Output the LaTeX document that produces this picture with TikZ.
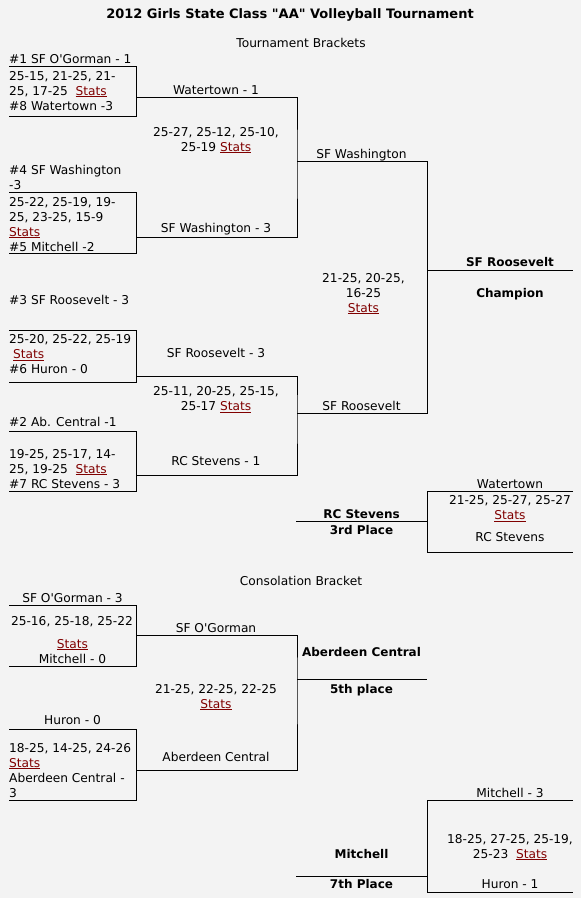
\documentclass[tikz,border=0pt]{standalone}
\usepackage{fontspec}
\setmainfont{DejaVu Sans}
\usepackage{xcolor}
\usetikzlibrary{positioning, calc}

\definecolor{pagebg}{HTML}{F3F3F3}
\definecolor{linkred}{HTML}{800000}
\newcommand{\statlink}{\textcolor{linkred}{\underline{Stats}}}

\begin{document}
\begin{tikzpicture}[
        x=1pt, y=-1pt,
        every node/.style={inner sep=0pt, font=\fontsize{12.2}{15}\selectfont},
        seed/.style={anchor=base west, align=left},
        result/.style={anchor=base, align=center},
        placed/.style={anchor=base, align=center, font=\fontsize{12}{15}\selectfont\bfseries},
        heading/.style={anchor=base},
        bracket/.style={draw, line width=1pt}
    ]
        \useasboundingbox[fill=pagebg] (0,0) rectangle (581,898);

        % Headings (multi-line nodes sit on their last baseline)
        \node[heading, font=\fontsize{13}{16}\selectfont\bfseries] (title) at (290,18) {2012 Girls State Class \textquotedbl AA\textquotedbl{} Volleyball Tournament};
        \node[heading] (mainhead) at (301,47) {Tournament Brackets};
        \node[heading] (conshead) at (301,585) {Consolation Bracket};

        % First round
        \node[seed] (s1) at (9,63.5) {\#1 SF O\textquotesingle Gorman - 1};
        \node[seed] (m1) at (9,110) {25-15, 21-25, 21-\\25, 17-25\ \ \statlink\\\#8 Watertown -3};
        \node[seed] (s4) at (9,189) {\#4 SF Washington\\-3};
        \node[seed] (m2) at (9,251) {25-22, 25-19, 19-\\25, 23-25, 15-9\\\statlink\\\#5 Mitchell -2};
        \node[seed] (s3) at (9,304) {\#3 SF Roosevelt - 3};
        \node[seed] (m3) at (9,373.5) {25-20, 25-22, 25-19\\\ \statlink\\\#6 Huron - 0};
        \node[seed] (s2) at (9,426) {\#2 Ab. Central -1};
        \node[seed] (m4) at (9,488) {19-25, 25-17, 14-\\25, 19-25\ \ \statlink\\\#7 RC Stevens - 3};

        % Semifinals
        \node[result] (w1) at (216,94.5) {Watertown - 1};
        \node[result] (m5) at (216,151) {25-27, 25-12, 25-10,\\25-19 \statlink};
        \node[result] (w4) at (216,232) {SF Washington - 3};
        \node[result] (w3) at (216,357) {SF Roosevelt - 3};
        \node[result] (m6) at (216,410.5) {25-11, 20-25, 25-15,\\25-17 \statlink};
        \node[result] (w7) at (216,465) {RC Stevens - 1};

        % Final
        \node[result] (f1) at (361.5,158) {SF Washington};
        \node[result] (m7) at (363.5,312) {21-25, 20-25,\\16-25\\\statlink};
        \node[result] (f2) at (361.5,410) {SF Roosevelt};
        \node[placed] (champ) at (510,266) {SF Roosevelt};
        \node[placed] (champlbl) at (510,297) {Champion};

        % Third place
        \node[result] (t1) at (510,488) {Watertown};
        \node[result] (m8) at (510,519.5) {21-25, 25-27, 25-27\\\statlink};
        \node[result] (t2) at (510,541) {RC Stevens};
        \node[placed] (third) at (361.5,518) {RC Stevens};
        \node[placed] (thirdlbl) at (361.5,534) {3rd Place};

        % Consolation
        \node[result] (c1) at (72.5,602) {SF O\textquotesingle Gorman - 3};
        \node[result] (cm1) at (72,625.5) {25-16, 25-18, 25-22};
        \node[result] (cm1b) at (72.5,663) {\statlink\\Mitchell - 0};
        \node[result] (c2) at (72.5,724.5) {Huron - 0};
        \node[seed] (cm2) at (9,797) {18-25, 14-25, 24-26\\\statlink\\Aberdeen Central -\\3};
        \node[result] (cw1) at (216,632) {SF O\textquotesingle Gorman};
        \node[result] (cm3) at (216,708) {21-25, 22-25, 22-25\\\statlink};
        \node[result] (cw2) at (216,761) {Aberdeen Central};
        \node[placed] (fifth) at (361.5,656) {Aberdeen Central};
        \node[placed] (fifthlbl) at (361.5,693) {5th place};

        % Seventh place
        \node[result] (v1) at (510,797) {Mitchell - 3};
        \node[result] (cm4) at (510,858) {18-25, 27-25, 25-19,\\25-23\ \ \statlink};
        \node[result] (v2) at (510,888) {Huron - 1};
        \node[placed] (seventh) at (361.5,858) {Mitchell};
        \node[placed] (seventhlbl) at (361.5,888.5) {7th Place};

        % Bracket corners
        \coordinate (b1nw) at (9,66);    \coordinate (b1se) at (136,116);
        \coordinate (b2nw) at (9,192);   \coordinate (b2se) at (136,253);
        \coordinate (b3nw) at (9,330);   \coordinate (b3se) at (136,382);
        \coordinate (b4nw) at (9,431);   \coordinate (b4se) at (136,491);
        \coordinate (c1nw) at (9,605);   \coordinate (c1se) at (136,666);
        \coordinate (c2nw) at (9,729);   \coordinate (c2se) at (136,800);
        \coordinate (t-ne) at (573,491); \coordinate (t-sw) at (427,552);
        \coordinate (v-ne) at (573,800); \coordinate (v-sw) at (427,892);

        % Exits and joins
        \coordinate (x1) at (136,97);   \coordinate (x2) at (136,237);
        \coordinate (x3) at (136,376);  \coordinate (x4) at (136,475);
        \coordinate (j1) at (297,161);  \coordinate (j2) at (297,413);
        \coordinate (j2e) at (427,413);
        \coordinate (fin) at (427,270); \coordinate (finend) at (573,270);
        \coordinate (tline) at (296,521);
        \coordinate (cx1) at (136,635); \coordinate (cx2) at (136,770);
        \coordinate (cj) at (297,679);  \coordinate (cje) at (427,679);
        \coordinate (vline) at (296,876);

        % Boxes
        \foreach \b in {b1, b2, b3, b4, c1, c2}
            \draw[bracket] (\b nw) -| (\b se) -- (\b se -| \b nw);
        \draw[bracket] (t-ne) -| (t-sw) -- (t-sw -| t-ne);
        \draw[bracket] (v-ne) -| (v-sw) -- (v-sw -| v-ne);

        % Connectors
        \draw[bracket] (x1) -| (j1) |- (x2);
        \draw[bracket] (x3) -| (j2) |- (x4);
        \draw[bracket] (j1) -| (j2e) -- (j2);
        \draw[bracket] (fin) -- (finend);
        \draw[bracket] (tline) -- (tline -| t-sw);
        \draw[bracket] (cx1) -| (cj) |- (cx2);
        \draw[bracket] (cj) -- (cje);
        \draw[bracket] (vline) -- (vline -| v-sw);

    \end{tikzpicture}
\end{document}
